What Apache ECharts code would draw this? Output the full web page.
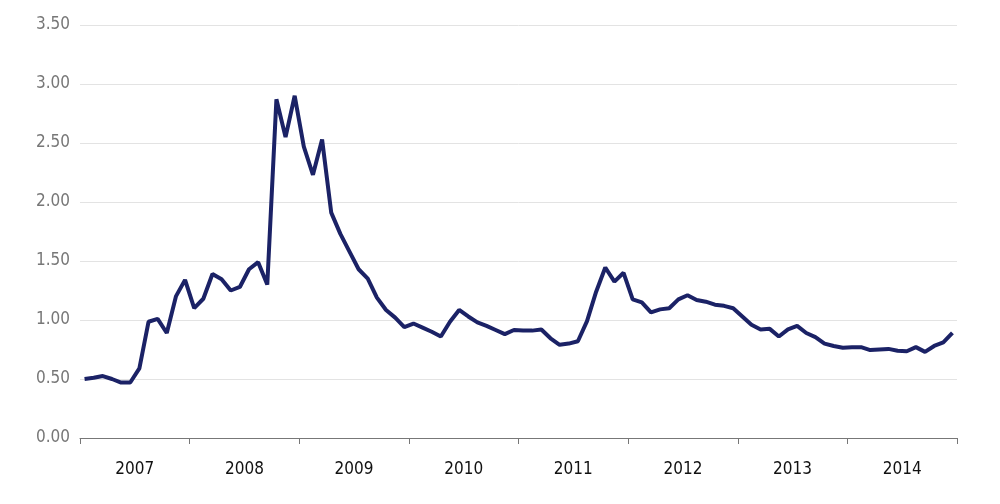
<!DOCTYPE html>
<html>
<head>
<meta charset="utf-8">
<script src="https://cdn.jsdelivr.net/npm/echarts@6/dist/echarts.min.js"></script>
<style>
  html, body { margin: 0; padding: 0; background: #fff; }
  #chart { width: 1000px; height: 504px; }
</style>
</head>
<body>
<div id="chart"></div>
<script>
// 年份标签
var years = ['2007', '2008', '2009', '2010', '2011', '2012', '2013', '2014'];
// 每月数值 (2007-01 ~ 2014-12)
var v2007 = [0.50, 0.51, 0.525, 0.50, 0.47, 0.47, 0.59, 0.985, 1.01, 0.89, 1.20, 1.34];
var v2008 = [1.10, 1.18, 1.39, 1.345, 1.25, 1.28, 1.43, 1.49, 1.30, 2.87, 2.55, 2.90];
var v2009 = [2.47, 2.23, 2.53, 1.91, 1.73, 1.58, 1.43, 1.35, 1.19, 1.085, 1.02, 0.94];
var v2010 = [0.97, 0.935, 0.90, 0.86, 0.985, 1.085, 1.03, 0.98, 0.95, 0.915, 0.88, 0.915];
var v2011 = [0.91, 0.91, 0.92, 0.845, 0.79, 0.80, 0.82, 0.99, 1.24, 1.445, 1.325, 1.40];
var v2012 = [1.175, 1.15, 1.065, 1.09, 1.10, 1.175, 1.21, 1.17, 1.155, 1.13, 1.12, 1.10];
var v2013 = [1.03, 0.96, 0.92, 0.925, 0.86, 0.92, 0.95, 0.89, 0.855, 0.80, 0.78, 0.765];
var v2014 = [0.77, 0.77, 0.745, 0.75, 0.755, 0.74, 0.735, 0.77, 0.73, 0.78, 0.81, 0.89];

var values = [].concat(v2007, v2008, v2009, v2010, v2011, v2012, v2013, v2014);
var months = [];
years.forEach(function (y) {
    for (var m = 1; m <= 12; m++) months.push(y + '-' + (m < 10 ? '0' + m : m));
});

var font = "'DejaVu Sans Condensed', 'Liberation Sans Narrow', sans-serif";

var myChart = echarts.init(document.getElementById('chart'));
myChart.setOption({
    animation: false,
    grid: { left: 80, right: 43, top: 25, bottom: 66 },
    xAxis: [{
        type: 'category',
        data: months,
        boundaryGap: true,
        show: false
    }, {
        type: 'category',
        data: years,
        boundaryGap: true,
        position: 'bottom',
        axisLine: { show: true, lineStyle: { color: '#777', width: 1 } },
        axisTick: { show: true, alignWithLabel: false, interval: 0, length: 6, lineStyle: { color: '#777', width: 1 } },
        axisLabel: { color: '#111', fontSize: 17, fontFamily: font, margin: 23 }
    }],
    yAxis: {
        type: 'value',
        min: 0,
        max: 3.5,
        interval: 0.5,
        axisLine: { show: false },
        axisTick: { show: false },
        axisLabel: {
            color: '#777',
            fontSize: 17,
            fontFamily: font,
            margin: 10,
            formatter: function (v) { return v.toFixed(2); }
        },
        splitLine: { lineStyle: { color: '#e3e3e3', width: 1 } }
    },
    series: [{
        type: 'line',
        xAxisIndex: 0,
        data: values,
        symbol: 'none',
        lineStyle: { color: '#1b2266', width: 4 }
    }]
});
</script>
</body>
</html>
